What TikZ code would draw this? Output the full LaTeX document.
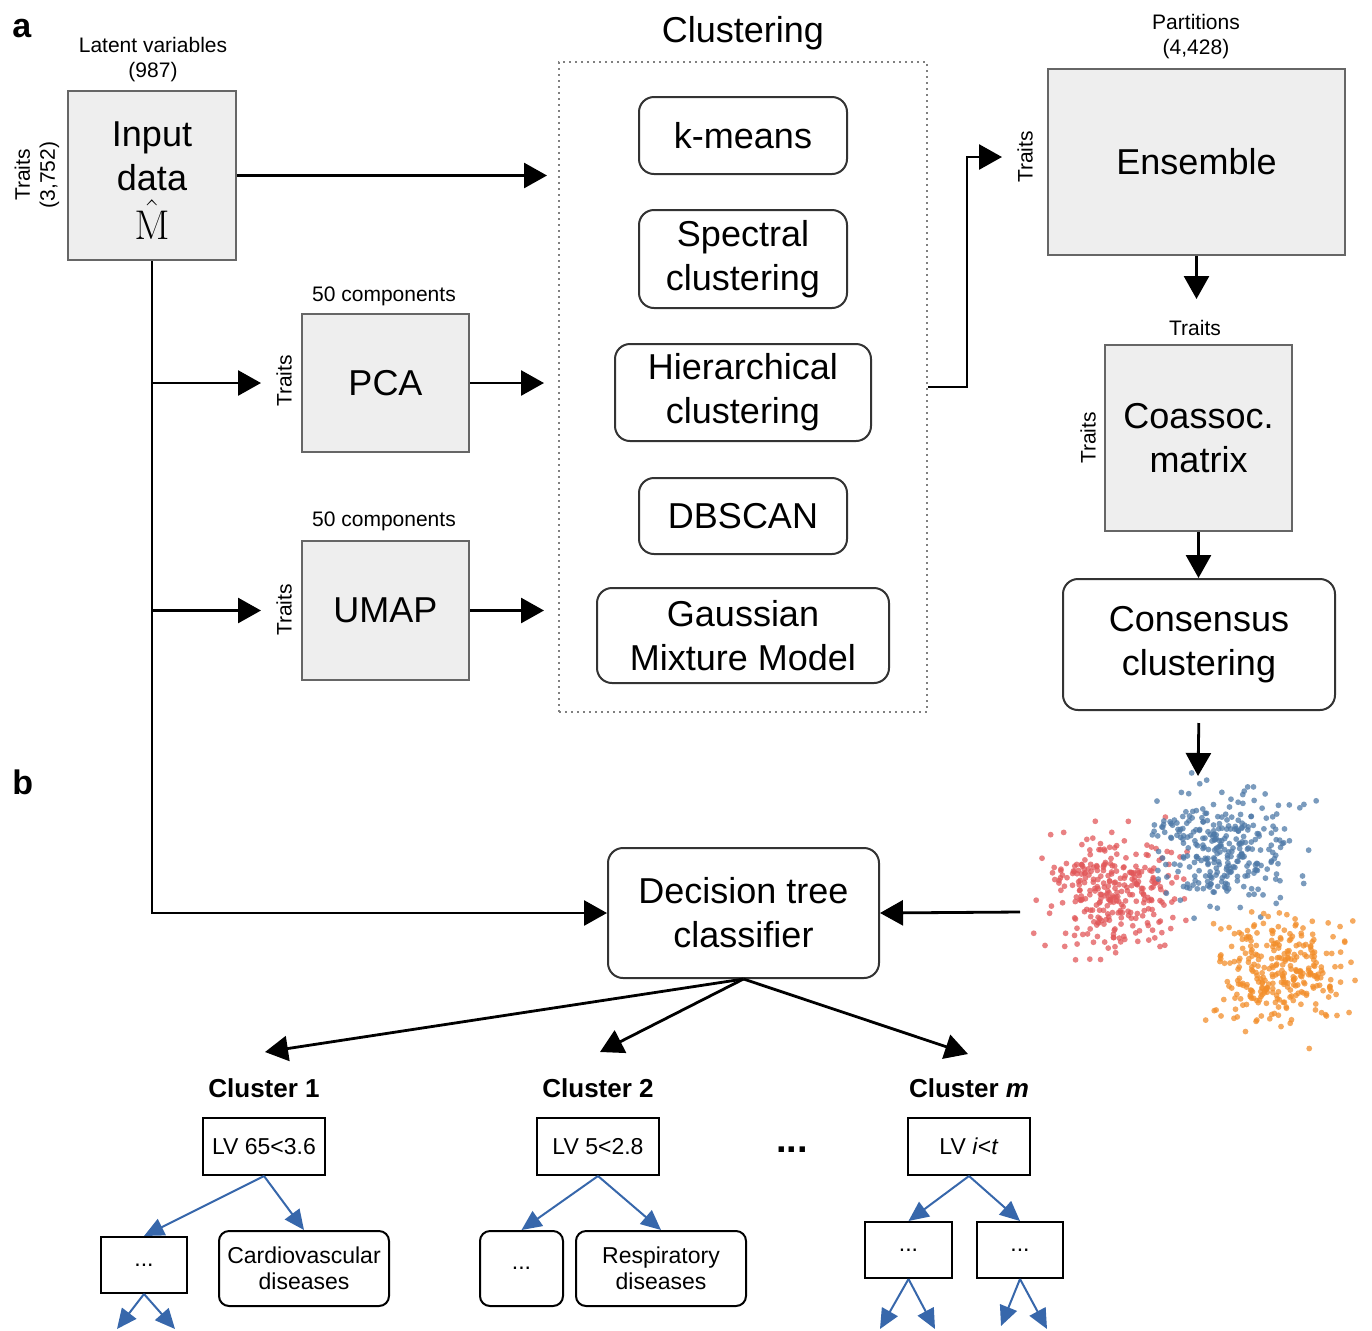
\documentclass[tikz,border=0pt]{standalone}
\usepackage[no-math]{fontspec}
\setmainfont{Liberation Sans}
\usetikzlibrary{arrows.meta,calc}
\definecolor{boxfill}{HTML}{EEEEEE}
\definecolor{boxline}{HTML}{666666}
\definecolor{rline}{HTML}{333333}
\definecolor{treeblue}{HTML}{3767AB}
\definecolor{cred}{HTML}{E15759}
\definecolor{cblue}{HTML}{4E79A7}
\definecolor{corange}{HTML}{F28E2B}
\newcommand\bigf{\fontsize{18}{22}\selectfont}
\newcommand\smallf{\fontsize{10.5}{12.5}\selectfont}
\newcommand\treef{\fontsize{11.5}{13}\selectfont}
\newcommand\clf{\fontsize{13}{15}\selectfont\bfseries}
\begin{document}
\begin{tikzpicture}[x=0.5pt,y=-0.5pt,
  gbox/.style={draw=boxline, fill=boxfill, line width=1pt, inner sep=0pt, align=center, font=\bigf},
  rbox/.style={draw=rline, line width=1pt, rounded corners=7.5pt, inner sep=0pt, align=center, font=\bigf},
  tbox/.style={draw=black, line width=1pt, inner sep=0pt, align=center, font=\treef},
  trbox/.style={tbox, rounded corners=5pt},
  lbl/.style={font=\smallf, align=center, inner sep=0pt},
  rlbl/.style={lbl, rotate=90},
  arr/.style={line width=1.4pt, -{Triangle[length=11.5pt,width=12.5pt]}},
  barr/.style={draw=treeblue, line width=1pt, -{Triangle[length=10pt,width=9pt]}},
  dotbox/.style={draw=gray, dotted, line width=1pt}
]
\useasboundingbox (0,0) rectangle (1372,1330);

% panel labels
\node[anchor=base west, inner sep=0pt, font=\fontsize{17}{20}\selectfont\bfseries] (pa) at (12,37) {a};
\node[anchor=base west, inner sep=0pt, font=\fontsize{17}{20}\selectfont\bfseries] (pb) at (12,794) {b};

% input
\node[gbox, minimum width=84pt, minimum height=84.5pt] (input) at (152,175.5) {\rule{0pt}{17pt}Input\\data\\[2.5pt]{\fontsize{21}{22}\selectfont$\hat{\mathrm{M}}$}};
\node[lbl] (lv) at (153,60) {Latent variables\\(987)};
\node[rlbl] (tin) at (37,175) {Traits\\(3,752)};

% PCA, UMAP
\node[gbox, minimum width=83.5pt, minimum height=69pt] (pca) at (385.5,383) {PCA};
\node[lbl] (pcal) at (384,296) {50 components};
\node[rlbl] (pcat) at (284,381) {Traits};
\node[gbox, minimum width=83.5pt, minimum height=69.5pt] (umap) at (385.5,610.5) {UMAP};
\node[lbl] (umapl) at (384,521) {50 components};
\node[rlbl] (umapt) at (284,610) {Traits};

% clustering box
\node[dotbox, minimum width=184pt, minimum height=325pt, inner sep=0pt] (clbox) at (743,387) {};
\node[font=\bigf, inner sep=0pt] (cltitle) at (743,33) {Clustering};
\node[rbox, minimum width=104pt, minimum height=38.5pt] (kmeans) at (743,135.5) {k-means};
\node[rbox, minimum width=104pt, minimum height=49pt] (spec) at (743,259) {Spectral\\clustering};
\node[rbox, minimum width=128pt, minimum height=48.5pt] (hier) at (743,392.5) {Hierarchical\\clustering};
\node[rbox, minimum width=104pt, minimum height=38pt] (dbscan) at (743,516) {DBSCAN};
\node[rbox, minimum width=146pt, minimum height=47.5pt] (gmm) at (743,635.5) {Gaussian\\Mixture Model};

% ensemble
\node[gbox, minimum width=148.5pt, minimum height=93pt] (ens) at (1196.5,162) {Ensemble};
\node[lbl] (ensl) at (1196,36.5) {Partitions\\(4,428)};
\node[rlbl] (enst) at (1025,157) {Traits};
\node[gbox, minimum width=93.5pt, minimum height=93pt] (coas) at (1198.5,438) {Coassoc.\\matrix};
\node[lbl] (coasl) at (1195,328) {Traits};
\node[rlbl] (coast) at (1088,438) {Traits};
\node[rbox, minimum width=136pt, minimum height=65.5pt] (cons) at (1199,644.5) {Consensus\\clustering};

% decision tree
\node[rbox, minimum width=135.5pt, minimum height=65pt] (dtree) at (743.5,913) {Decision tree\\classifier};

% scatter
\pgfmathsetseed{4242}
\foreach \k in {1,...,300}{
  \pgfmathsetmacro\px{1112+32*(rand+rand+rand)}
  \pgfmathsetmacro\py{890+29*(rand+rand+rand)}
  \fill[cred, fill opacity=0.75] (\px,\py) circle[radius=1.45pt];
}
\foreach \k in {1,...,300}{
  \pgfmathsetmacro\px{1225+34*(rand+rand+rand)}
  \pgfmathsetmacro\py{845+27*(rand+rand+rand)}
  \fill[cblue, fill opacity=0.75] (\px,\py) circle[radius=1.45pt];
}
\foreach \k in {1,...,300}{
  \pgfmathsetmacro\px{1278+32*(rand+rand+rand)}
  \pgfmathsetmacro\py{970+28*(rand+rand+rand)}
  \fill[corange, fill opacity=0.75] (\px,\py) circle[radius=1.45pt];
}
\coordinate (scin) at (1198,776);
\coordinate (scout) at (1020,912);

% cluster labels and trees
\node[font=\clf, inner sep=0pt] (c1) at (264,1088) {Cluster 1};
\node[font=\clf, inner sep=0pt] (c2) at (598,1088) {Cluster 2};
\node[font=\clf, inner sep=0pt] (cm) at (969,1088) {Cluster \textit{m}};
\node[font=\fontsize{19}{20}\selectfont\bfseries, inner sep=0pt] (dots) at (792,1150) {...};

\node[tbox, minimum width=61pt, minimum height=28.5pt] (lv1) at (264,1146.5) {LV 65<3.6};
\node[tbox, minimum width=61pt, minimum height=28.5pt] (lv2) at (598,1146.5) {LV 5<2.8};
\node[tbox, minimum width=61pt, minimum height=28.5pt] (lvm) at (969,1146.5) {LV \textit{i}<\textit{t}};

\node[tbox, minimum width=43pt, minimum height=28pt] (d1) at (144,1265) {...};
\node[trbox, minimum width=85pt, minimum height=37.5pt] (cardio) at (304,1268.5) {Cardiovascular\\diseases};
\node[trbox, minimum width=41.5pt, minimum height=37.5pt] (d2) at (521.5,1268.5) {...};
\node[trbox, minimum width=85pt, minimum height=37.5pt] (resp) at (661,1268.5) {Respiratory\\diseases};
\node[tbox, minimum width=43.5pt, minimum height=28pt] (dm1) at (908.5,1250) {...};
\node[tbox, minimum width=43pt, minimum height=28pt] (dm2) at (1020,1250) {...};

\coordinate (t1) at (265,1052);
\coordinate (t2) at (600,1052);
\coordinate (tm) at (968,1054);
\coordinate (e1) at (117,1329);
\coordinate (e2) at (175,1329);
\coordinate (e3) at (880,1329);
\coordinate (e4) at (935,1329);
\coordinate (e5) at (1001,1326);
\coordinate (e6) at (1047,1329);

% connectors (top)
\draw[arr, shorten >=5.5pt] (input.east) -- (input.east -| clbox.west);
\draw[arr] (input.south) |- (dtree.west);
\draw[arr, shorten >=20pt] (input.south |- pca.west) -- (pca.west);
\draw[arr, shorten >=20pt] (input.south |- umap.west) -- (umap.west);
\draw[arr, shorten >=7pt] (pca.east) -- (pca.east -| clbox.west);
\draw[arr, shorten >=7pt] (umap.east) -- (umap.east -| clbox.west);
\draw[arr, shorten >=22.5pt] (clbox.east) -- ++(39,0) |- ($(ens.west)+(0,-5)$);
\draw[arr, shorten >=22.5pt] (ens.south) -- (ens.south |- coas.north);
\draw[arr] (coas.south) -- (coas.south |- cons.north);
\draw[arr, shorten <=6pt] (cons.south) -- (scin);
\draw[arr] (scout) -- (dtree.east);

% decision tree arrows
\draw[arr] (dtree.south) -- (t1);
\draw[arr] (dtree.south) -- (t2);
\draw[arr] (dtree.south) -- (tm);

% blue tree arrows
\draw[barr] (lv1.south) -- (d1.north);
\draw[barr] (lv1.south) -- (cardio.north);
\draw[barr] (lv2.south) -- (d2.north);
\draw[barr] (lv2.south) -- (resp.north);
\draw[barr] (lvm.south) -- (dm1.north);
\draw[barr] (lvm.south) -- (dm2.north);
\draw[barr] (d1.south) -- (e1);
\draw[barr] (d1.south) -- (e2);
\draw[barr] (dm1.south) -- (e3);
\draw[barr] (dm1.south) -- (e4);
\draw[barr] (dm2.south) -- (e5);
\draw[barr] (dm2.south) -- (e6);
\end{tikzpicture}
\end{document}
